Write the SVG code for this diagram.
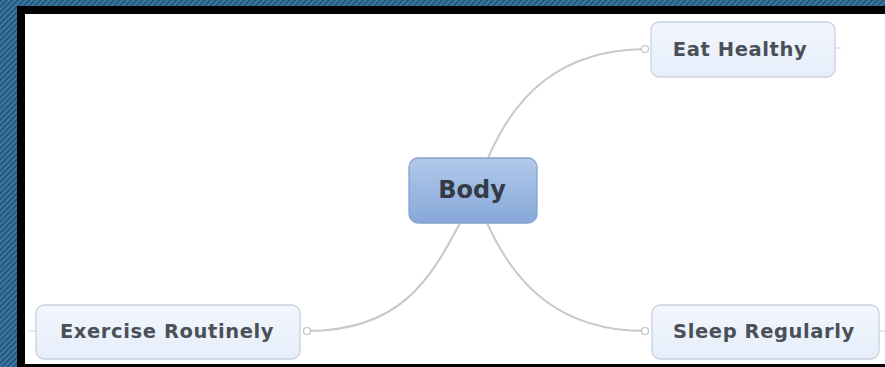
<svg xmlns="http://www.w3.org/2000/svg" width="885" height="367" viewBox="0 0 885 367">
<defs>
<pattern id="hatch" width="4" height="4" patternUnits="userSpaceOnUse" patternTransform="rotate(45)">
<rect width="4" height="4" fill="#3579a6"/>
<rect width="1.5" height="4" fill="#224d6b"/>
</pattern>
<linearGradient id="gBody" x1="0" y1="0" x2="0" y2="1">
<stop offset="0" stop-color="#b2c9ea"/>
<stop offset="1" stop-color="#86a8d9"/>
</linearGradient>
<linearGradient id="gSub" x1="0" y1="0" x2="0" y2="1">
<stop offset="0" stop-color="#f2f6fd"/>
<stop offset="1" stop-color="#e6eefa"/>
</linearGradient>
</defs>
<style>
.sub{fill:url(#gSub);stroke:#c9d1dc;stroke-width:1.3}
.lbl{font-family:"DejaVu Sans",Verdana,sans-serif;font-weight:bold;fill:#4b5058;text-anchor:middle;dominant-baseline:central}
.sl{font-size:19.5px;letter-spacing:0.6px}
.con{fill:none;stroke:#c8c8c8;stroke-width:2}
.dot{fill:#ffffff;stroke:#c0c0c0;stroke-width:1.2}
.tail{stroke:#d0d0d0;stroke-width:1}
</style>
<rect x="0" y="0" width="885" height="367" fill="#ffffff"/>
<rect x="0" y="0" width="885" height="6" fill="url(#hatch)"/>
<rect x="0" y="0" width="17" height="367" fill="url(#hatch)"/>
<rect x="17" y="6" width="868" height="8" fill="#000000"/>
<rect x="17" y="6" width="8" height="361" fill="#000000"/>
<rect x="17" y="364" width="868" height="3" fill="#000000"/>

<g id="connectors">
<path class="con" d="M488,158 C515,95 560,50 645,49"/>
<path class="con" d="M460,223 C430,280 400,331 307,331"/>
<path class="con" d="M487,223 C515,285 560,331 645,331"/>
<line class="tail" x1="835" y1="48" x2="841" y2="48"/>
<line class="tail" x1="29" y1="331" x2="36" y2="331"/>
<line class="tail" x1="879" y1="331" x2="885" y2="331"/>
<circle class="dot" cx="645" cy="49" r="3.5"/>
<circle class="dot" cx="307" cy="331" r="3.5"/>
<circle class="dot" cx="645" cy="331" r="3.5"/>
</g>

<g id="body">
<rect x="409" y="158" width="128" height="65" rx="9" fill="url(#gBody)" stroke="#86a3cf" stroke-width="1.3"/>
<text class="lbl" x="472" y="190" font-size="24" style="fill:#353b46">Body</text>
</g>

<g id="eat-healthy">
<rect class="sub" x="651" y="22" width="184" height="55" rx="8"/>
<text class="lbl sl" x="740" y="49">Eat Healthy</text>
</g>

<g id="exercise-routinely">
<rect class="sub" x="36" y="305" width="264" height="54" rx="8"/>
<text class="lbl sl" x="167" y="331">Exercise Routinely</text>
</g>

<g id="sleep-regularly">
<rect class="sub" x="652" y="305" width="227" height="54" rx="8"/>
<text class="lbl sl" x="764" y="331">Sleep Regularly</text>
</g>
</svg>
